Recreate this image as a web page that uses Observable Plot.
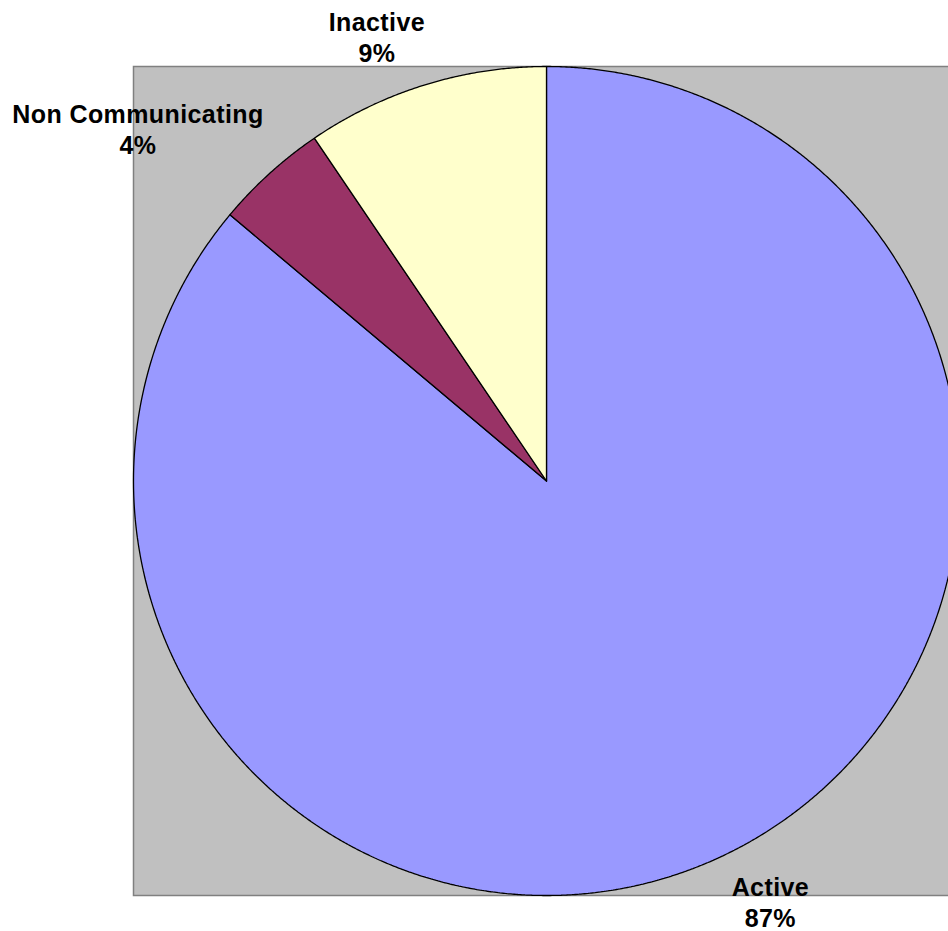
<!DOCTYPE html>
<html>
<head>
<meta charset="utf-8">
<script src="https://cdn.jsdelivr.net/npm/d3@7"></script>
<script src="https://cdn.jsdelivr.net/npm/@observablehq/plot@0.6"></script>
<style>
  html, body { margin: 0; padding: 0; overflow: hidden; background: #fff; }
  svg text { letter-spacing: 0.4px; }
</style>
</head>
<body>
<div id="chart"></div>
<script>
// Data (clockwise from 12 o'clock)
const categories = ["Active", "Non Communicating", "Inactive"];
const values = [86.1, 4.4, 9.5];
const percentLabels = ["87%", "4%", "9%"];
const colors = ["#9999FF", "#993366", "#FFFFCC"];

const rows = categories.map((c, i) => ({category: c, value: values[i], label: percentLabels[i]}));
const arcs = d3.pie().sort(null).value(d => d.value)(rows);

// Slice outlines computed from the pie angles
const slicePoints = [];
arcs.forEach(a => {
  const cat = a.data.category;
  slicePoints.push({category: cat, x: 0, y: 0});
  const n = Math.max(2, Math.ceil((a.endAngle - a.startAngle) / (Math.PI / 720)));
  for (let k = 0; k <= n; k++) {
    const t = a.startAngle + (a.endAngle - a.startAngle) * k / n;
    slicePoints.push({category: cat, x: Math.sin(t), y: Math.cos(t)});
  }
  slicePoints.push({category: cat, x: 0, y: 0});
});

// Label anchors at the mid-angle of each slice
const labelRadius = 1.15;
const labelPoints = arcs.map(a => {
  const m = (a.startAngle + a.endAngle) / 2;
  return {category: a.data.category, text: a.data.category + "\n" + a.data.label,
          x: labelRadius * Math.sin(m), y: labelRadius * Math.cos(m)};
});

const textStyle = {
  x: "x", y: "y", text: "text",
  fontSize: 25, fontWeight: "bold", fontFamily: "Liberation Sans, Arial, sans-serif",
  fill: "black", textAnchor: "middle", lineHeight: 1.24
};
const nudges = {
  "Active": {dx: 23, dy: -11},
  "Non Communicating": {dx: -90, dy: 1},
  "Inactive": {dx: -30, dy: 11}
};

const chart = Plot.plot({
  width: 960,
  height: 931,
  marginLeft: 133,
  marginRight: 1,
  marginTop: 66,
  marginBottom: 36,
  x: {domain: [-1, 1], axis: null},
  y: {domain: [-1, 1], axis: null},
  color: {domain: categories, range: colors},
  style: {maxWidth: "none", background: "white", fontFamily: "Liberation Sans, Arial, sans-serif"},
  marks: [
    Plot.frame({fill: "#C0C0C0", stroke: "#808080", strokeWidth: 1.5}),
    Plot.line(slicePoints, {
      x: "x", y: "y", z: "category", fill: "category",
      stroke: "black", strokeWidth: 1.3, strokeLinejoin: "miter", curve: "linear"
    }),
    ...categories.map(c => Plot.text(labelPoints.filter(d => d.category === c), {...textStyle, ...nudges[c]}))
  ]
});
document.getElementById("chart").appendChild(chart);
</script>
</body>
</html>
